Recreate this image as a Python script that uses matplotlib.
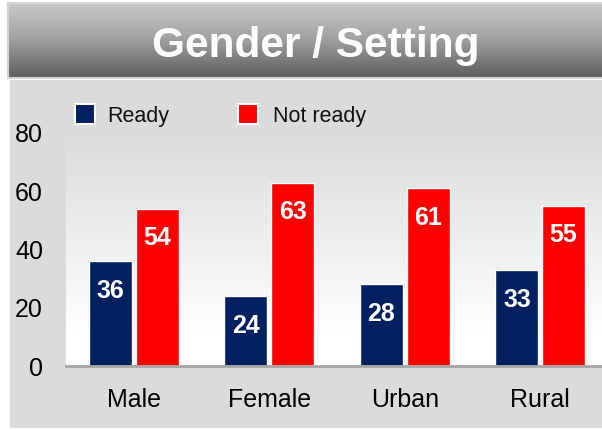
import numpy as np
import matplotlib
matplotlib.use("Agg")
import matplotlib.pyplot as plt
from matplotlib.colors import LinearSegmentedColormap
from matplotlib.patches import Rectangle

plt.rcParams['font.family'] = ['Liberation Sans', 'DejaVu Sans']

# chart data
title = "Gender / Setting"
categories = ["Male", "Female", "Urban", "Rural"]
series_names = ["Ready", "Not ready"]
ready = [36, 24, 28, 33]
not_ready = [54, 63, 61, 55]
series_colors = ["#002060", "#ff0000"]
y_ticks = [0, 20, 40, 60, 80]

W, H = 602, 430
fig = plt.figure(figsize=(W / 100, H / 100), dpi=100)
fig.patch.set_facecolor("white")


def px_box(x0, y0, x1, y1):
    """pixel box (top-left origin) -> figure fraction [l, b, w, h]"""
    return [x0 / W, 1 - y1 / H, (x1 - x0) / W, (y1 - y0) / H]


# grey panel behind the chart
l, b, w, h = px_box(10, 80, 610, 428)
fig.patches.append(Rectangle((l, b), w, h, transform=fig.transFigure,
                             facecolor="#dbdbdb", edgecolor="none", zorder=-5))

# title banner with vertical gradient
banner = fig.add_axes(px_box(8, 3, 620, 78))
banner_cmap = LinearSegmentedColormap.from_list(
    "banner", [(0, "#c9c9c9"), (0.45, "#a4a4a4"), (1, "#5c5c5c")])
grad = np.linspace(0, 1, 256).reshape(-1, 1)
banner.imshow(grad, cmap=banner_cmap, aspect="auto", extent=(0, 1, 0, 1))
banner.set_xlim(0, 1)
banner.set_ylim(0, 1)
for s in banner.spines.values():
    s.set_color("#d4d4d4")
    s.set_linewidth(1.5)
banner.set_xticks([])
banner.set_yticks([])
fig.text(316 / W, 1 - 57 / H, title, ha="center", va="baseline",
         fontsize=30.5, fontweight="bold", color="white")

# plot area
ax = fig.add_axes(px_box(66, 133, 608, 366))
x = np.arange(len(categories))
ax.set_xlim(-0.5, len(categories) - 0.5)
ax.set_ylim(0, 80)

area_cmap = LinearSegmentedColormap.from_list(
    "area", [(0, "#ffffff"), (0.15, "#ffffff"), (0.93, "#dedede"), (1, "#dbdbdb")])
ax.imshow(np.linspace(0, 1, 256).reshape(-1, 1)[::-1], cmap=area_cmap,
          aspect="auto", extent=(-0.5, len(categories) - 0.5, 0, 80), zorder=0)
ax.patch.set_visible(False)

bw = 0.318
off = 0.172
for vals, xs, col in [(ready, x - off, series_colors[0]),
                      (not_ready, x + off, series_colors[1])]:
    ax.bar(xs, vals, width=bw, color=col, edgecolor="white", linewidth=1, zorder=2)
    for xi, v in zip(xs, vals):
        ax.annotate(str(v), (xi, v), xytext=(0, -26.4), textcoords="offset points",
                    ha="center", va="baseline", color="white",
                    fontsize=18, fontweight="bold", zorder=3)

for side in ["top", "right", "left"]:
    ax.spines[side].set_visible(False)
ax.spines["bottom"].set_color("#a6a6a6")
ax.spines["bottom"].set_linewidth(2)
ax.spines["bottom"].set_zorder(4)

ax.set_yticks(y_ticks)
ax.set_xticks(x)
ax.set_xticklabels(categories)
ax.tick_params(axis="both", length=0, labelsize=18, colors="black")
ax.tick_params(axis="y", pad=16.5)
ax.tick_params(axis="x", pad=16)

# legend drawn as squares and labels
legend_items = [(75, 107), (238, 273)]
for (sq_x, tx), name, col in zip(legend_items, series_names, series_colors):
    l, b, w, h = px_box(sq_x, 104, sq_x + 20, 124)
    fig.patches.append(Rectangle((l, b), w, h, transform=fig.transFigure,
                                 facecolor=col, edgecolor="white", linewidth=1.5,
                                 zorder=5))
    fig.text(tx / W, 1 - 122 / H, name, ha="left", va="baseline",
             fontsize=15.5, color="#111111")

fig.savefig("out.png", dpi=100)
